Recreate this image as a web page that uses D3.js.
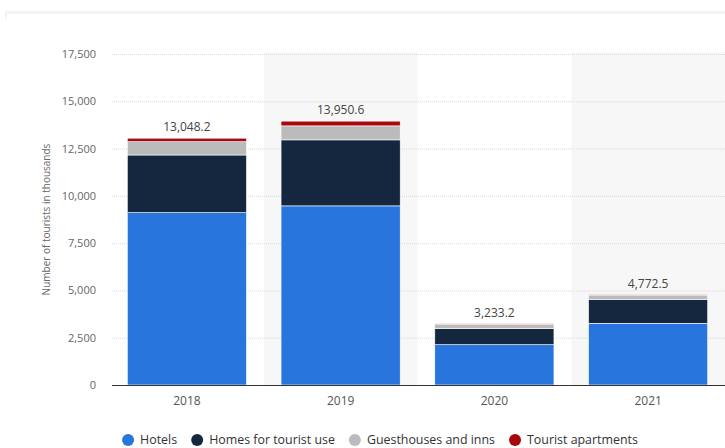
<!DOCTYPE html>
<html>
<head>
<meta charset="utf-8">
<script src="https://cdn.jsdelivr.net/npm/d3@7"></script>
<style>
  html, body { margin: 0; padding: 0; background: #fff; }
  svg { display: block; font-family: "Open Sans", "Noto Sans", sans-serif; }
</style>
</head>
<body>
<svg id="chart" width="725" height="448"></svg>
<script>
// Tourists by accommodation type (thousands)
const years = ["2018", "2019", "2020", "2021"];
const seriesNames = ["Hotels", "Homes for tourist use", "Guesthouses and inns", "Tourist apartments"];
const hotels = [9110, 9470, 2130, 3262];
const homes = [3050, 3490, 850, 1270];
const guesthouses = [705, 740, 235, 225];
const apartments = [183.2, 250.6, 18.2, 15.5];
const totals = [13048.2, 13950.6, 3233.2, 4772.5];
const yTicks = [0, 2500, 5000, 7500, 10000, 12500, 15000, 17500];
const colors = ["#2876dd", "#14273f", "#bbbbbb", "#a5080e"];

const rows = years.map((yr, i) => ({
  year: yr,
  "Hotels": hotels[i],
  "Homes for tourist use": homes[i],
  "Guesthouses and inns": guesthouses[i],
  "Tourist apartments": apartments[i],
  total: totals[i]
}));

const svg = d3.select("#chart");
const plotLeft = 110, plotRight = 725, plotTop = 54, plotBottom = 385;

const x = d3.scaleBand().domain(years).range([plotLeft, plotRight])
  .paddingInner(0.225).paddingOuter(0.1125);
const y = d3.scaleLinear().domain([0, 17500]).range([plotBottom, plotTop]);
const color = d3.scaleOrdinal().domain(seriesNames).range(colors);

// card frame edge
svg.append("rect").attr("x", 5).attr("y", 11).attr("width", 720).attr("height", 3).attr("fill", "#f3f3f3");
svg.append("rect").attr("x", 5).attr("y", 11).attr("width", 2).attr("height", 8).attr("fill", "#f3f3f3");

// alternating column shading
const step = x.step();
svg.append("g").selectAll("rect")
  .data(years.filter((d, i) => i % 2 === 1))
  .join("rect")
  .attr("x", d => x(d) - x.paddingInner() * step / 2)
  .attr("y", plotTop - 2)
  .attr("width", step)
  .attr("height", plotBottom - plotTop + 2)
  .attr("fill", "#f7f7f7");

// gridlines
svg.append("g").selectAll("line")
  .data(yTicks.filter(t => t > 0))
  .join("line")
  .attr("x1", plotLeft + 2).attr("x2", plotRight)
  .attr("y1", d => y(d) + 0.5).attr("y2", d => y(d) + 0.5)
  .attr("stroke", "#d9d9d9").attr("stroke-width", 1)
  .attr("stroke-dasharray", "1,1");

// y axis labels
const yAxis = d3.axisLeft(y).tickValues(yTicks).tickSize(0).tickPadding(0)
  .tickFormat(d3.format(","));
const gy = svg.append("g").attr("transform", "translate(96,0)").call(yAxis);
gy.select(".domain").remove();
gy.selectAll("text").attr("fill", "#666").style("font-size", "11px")
  .style("font-family", "'Open Sans', sans-serif");

svg.append("text")
  .attr("transform", `translate(50,${(plotTop + plotBottom) / 2}) rotate(-90)`)
  .attr("text-anchor", "middle")
  .attr("fill", "#666")
  .style("font-size", "10px")
  .text("Number of tourists in thousands");

// stacked bars
const stacked = d3.stack().keys(seriesNames)(rows);
svg.append("g").selectAll("g")
  .data(stacked)
  .join("g")
  .attr("fill", d => color(d.key))
  .selectAll("rect")
  .data(d => d)
  .join("rect")
  .attr("x", d => x(d.data.year))
  .attr("width", x.bandwidth())
  .attr("y", d => y(d[1]))
  .attr("height", d => Math.max(0, y(d[0]) - y(d[1])))
  .attr("stroke", "#fff")
  .attr("stroke-width", 0.6);

// total labels
svg.append("g").selectAll("text")
  .data(rows)
  .join("text")
  .attr("x", d => x(d.year) + x.bandwidth() / 2)
  .attr("y", d => y(d.total) - 7)
  .attr("text-anchor", "middle")
  .attr("fill", "#444")
  .style("font-size", "12px")
  .text(d => d3.format(",.1f")(d.total));

// baseline
svg.append("line")
  .attr("x1", plotLeft + 2).attr("x2", plotRight)
  .attr("y1", plotBottom + 0.5).attr("y2", plotBottom + 0.5)
  .attr("stroke", "#333").attr("stroke-width", 1);

// x axis labels
const xAxis = d3.axisBottom(x).tickSize(0).tickPadding(0);
const gx = svg.append("g").attr("transform", `translate(0,${plotBottom + 11})`).call(xAxis);
gx.select(".domain").remove();
gx.selectAll("text").attr("fill", "#555").style("font-size", "12px")
  .style("font-family", "'Open Sans', sans-serif").attr("dy", "0.71em");

// legend
const legend = svg.append("g").attr("transform", "translate(0,440)");
const items = legend.selectAll("g").data(seriesNames).join("g");
items.append("circle").attr("r", 6).attr("cy", 0).attr("fill", d => color(d));
items.append("text").attr("x", 12).attr("dy", "0.35em")
  .attr("fill", "#333").style("font-size", "12.4px").style("font-weight", "500")
  .text(d => d);
const widths = [];
items.each(function () { widths.push(this.getBBox().width); });
const gap = 14;
const totalW = d3.sum(widths) + gap * (widths.length - 1);
let cur = 380 - totalW / 2 + 6;
items.attr("transform", (d, i) => {
  const t = `translate(${cur},0)`;
  cur += widths[i] + gap;
  return t;
});
</script>
</body>
</html>
